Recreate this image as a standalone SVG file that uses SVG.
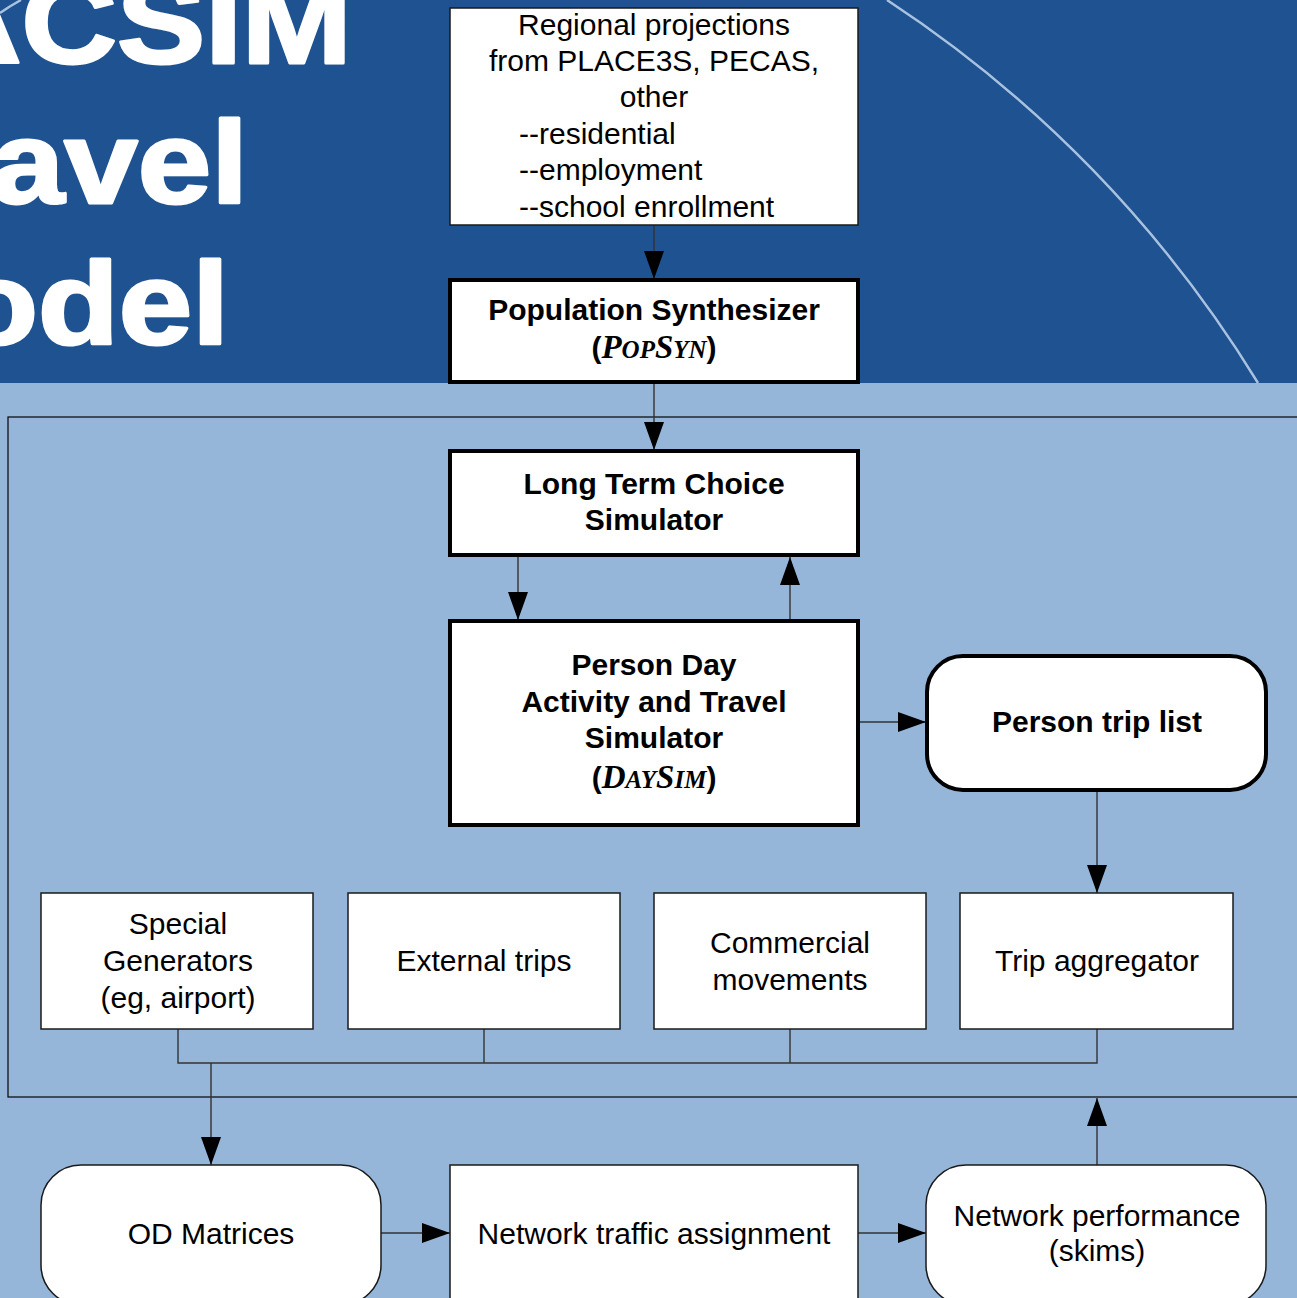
<svg xmlns="http://www.w3.org/2000/svg" width="1297" height="1298" viewBox="0 0 1297 1298">
<defs>
<style>
.t{font-family:"Liberation Sans",Arial,sans-serif;font-size:30px;fill:#000;text-anchor:middle}
.b{font-weight:bold}
.l{text-anchor:start}
.thin{fill:#fff;stroke:#1a1a1a;stroke-width:1.5}
.thick{fill:#fff;stroke:#000;stroke-width:4}
.c{fill:none;stroke:#333;stroke-width:1.4}
.a{fill:none;stroke:#333;stroke-width:1.4;marker-end:url(#ah)}
.sc{font-family:"Liberation Serif","Times New Roman",serif;font-style:italic;font-weight:bold}
.title{font-family:"Liberation Sans",Arial,sans-serif;font-weight:bold;font-size:117px;fill:#fff;stroke:#fff;stroke-width:3;stroke-linejoin:round;text-anchor:end}
</style>
<marker id="ah" markerUnits="userSpaceOnUse" markerWidth="28" markerHeight="20" refX="28" refY="10" orient="auto">
<path d="M0,0 L28,10 L0,20 Z" fill="#000"/>
</marker>
</defs>
<g id="background">
<rect x="0" y="0" width="1297" height="1298" fill="#95B6D9"/>
<rect x="0" y="0" width="1297" height="383" fill="#1F5290"/>
<path d="M887,0 A1216,1216 0 0 1 1258,383" fill="none" stroke="#A9C2E0" stroke-width="2.4"/>
<path d="M0,13 Q10,6 21,0" fill="none" stroke="#A9C2E0" stroke-width="2.4"/>
<text class="title" transform="translate(352,63) scale(1.13,1)" x="0" y="0">SACSIM</text>
<text class="title" transform="translate(248,203) scale(1.13,1)" x="0" y="0">Travel</text>
<text class="title" transform="translate(229,344) scale(1.13,1)" x="0" y="0">Model</text>
<rect x="8" y="417" width="1300" height="680" fill="none" stroke="#111" stroke-width="1.3"/>
</g>
<g id="connectors">
<line class="a" x1="654" y1="225" x2="654" y2="279"/>
<line class="a" x1="654" y1="382" x2="654" y2="450"/>
<line class="a" x1="518" y1="556" x2="518" y2="620"/>
<line class="a" x1="790" y1="620" x2="790" y2="557"/>
<line class="a" x1="858" y1="722" x2="926" y2="722"/>
<line class="a" x1="1097" y1="791" x2="1097" y2="893"/>
<path class="c" d="M178,1029 V1063 H1097 V1029 M484,1029 V1063 M790,1029 V1063"/>
<line class="a" x1="211" y1="1063" x2="211" y2="1165"/>
<line class="a" x1="381" y1="1233" x2="450" y2="1233"/>
<line class="a" x1="858" y1="1233" x2="926" y2="1233"/>
<line class="a" x1="1097" y1="1165" x2="1097" y2="1098"/>
</g>
<g id="regional">
<rect class="thin" x="450" y="8" width="408" height="217"/>
<text class="t" x="654" y="35">Regional projections</text>
<text class="t" x="654" y="71">from PLACE3S, PECAS,</text>
<text class="t" x="654" y="107">other</text>
<text class="t l" x="519" y="144">--residential</text>
<text class="t l" x="519" y="180">--employment</text>
<text class="t l" x="519" y="217">--school enrollment</text>
</g>
<g id="popsyn">
<rect class="thick" x="450" y="280" width="408" height="102"/>
<text class="t b" x="654" y="320">Population Synthesizer</text>
<text class="t b" x="654" y="358">(<tspan class="sc" font-size="33">P</tspan><tspan class="sc" font-size="25">OP</tspan><tspan class="sc" font-size="33">S</tspan><tspan class="sc" font-size="25">YN</tspan>)</text>
</g>
<g id="longterm">
<rect class="thick" x="450" y="451" width="408" height="104"/>
<text class="t b" x="654" y="494">Long Term Choice</text>
<text class="t b" x="654" y="530">Simulator</text>
</g>
<g id="daysim">
<rect class="thick" x="450" y="621" width="408" height="204"/>
<text class="t b" x="654" y="675">Person Day</text>
<text class="t b" x="654" y="712">Activity and Travel</text>
<text class="t b" x="654" y="748">Simulator</text>
<text class="t b" x="654" y="788">(<tspan class="sc" font-size="33">D</tspan><tspan class="sc" font-size="25">AY</tspan><tspan class="sc" font-size="33">S</tspan><tspan class="sc" font-size="25">IM</tspan>)</text>
</g>
<g id="triplist">
<rect class="thick" x="927" y="656" width="339" height="134" rx="36" ry="36"/>
<text class="t b" x="1097" y="732">Person trip list</text>
</g>
<g id="special">
<rect class="thin" x="41" y="893" width="272" height="136"/>
<text class="t" x="178" y="934">Special</text>
<text class="t" x="178" y="971">Generators</text>
<text class="t" x="178" y="1008">(eg, airport)</text>
</g>
<g id="external">
<rect class="thin" x="348" y="893" width="272" height="136"/>
<text class="t" x="484" y="971">External trips</text>
</g>
<g id="commercial">
<rect class="thin" x="654" y="893" width="272" height="136"/>
<text class="t" x="790" y="953">Commercial</text>
<text class="t" x="790" y="990">movements</text>
</g>
<g id="aggregator">
<rect class="thin" x="960" y="893" width="273" height="136"/>
<text class="t" x="1097" y="971">Trip aggregator</text>
</g>
<g id="od">
<rect class="thin" x="41" y="1165" width="340" height="140" rx="40" ry="40"/>
<text class="t" x="211" y="1244">OD Matrices</text>
</g>
<g id="assignment">
<rect class="thin" x="450" y="1165" width="408" height="140"/>
<text class="t" x="654" y="1244">Network traffic assignment</text>
</g>
<g id="performance">
<rect class="thin" x="926" y="1165" width="340" height="140" rx="40" ry="40"/>
<text class="t" x="1097" y="1226">Network performance</text>
<text class="t" x="1097" y="1261">(skims)</text>
</g>
</svg>
